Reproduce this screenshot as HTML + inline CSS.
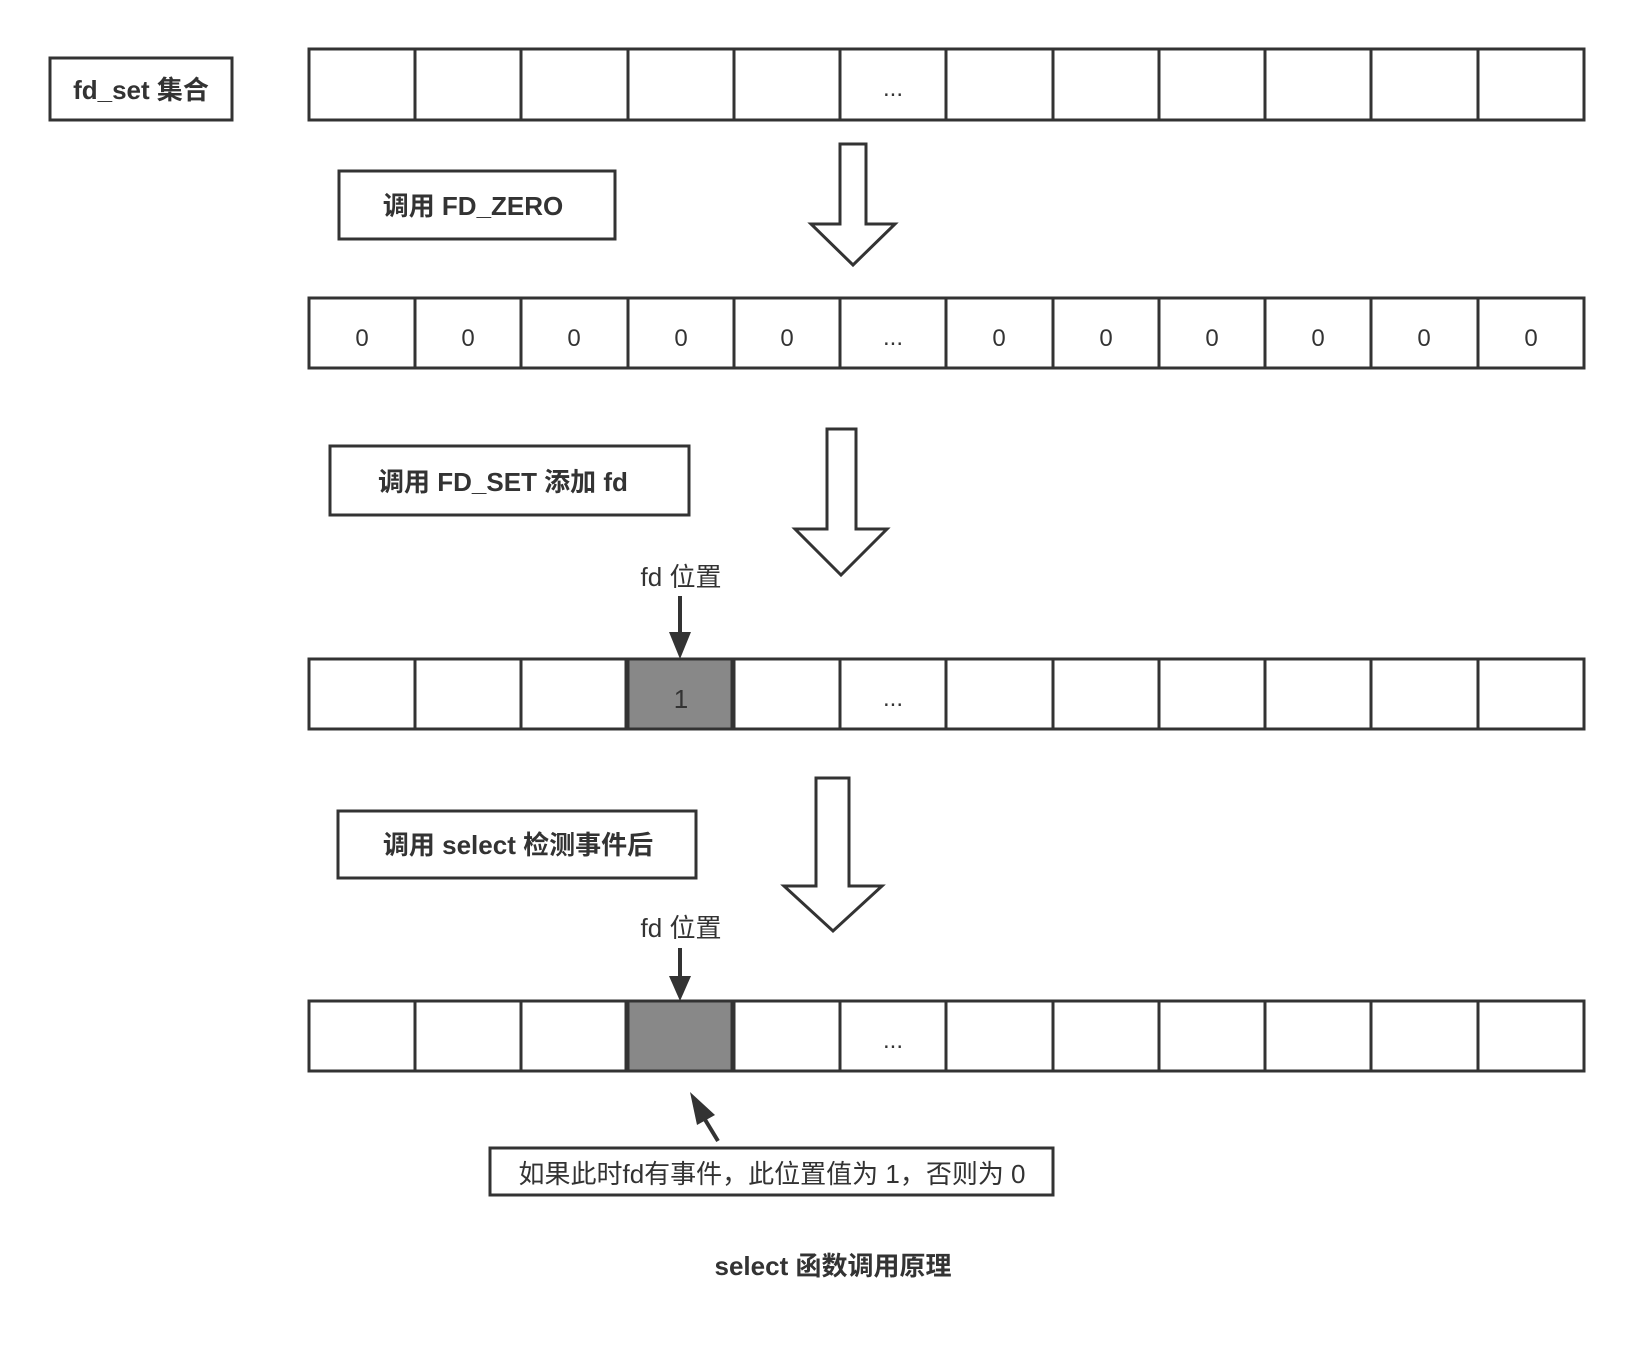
<!DOCTYPE html>
<html><head><meta charset="utf-8"><style>
html,body{margin:0;padding:0;background:#fff}
svg{display:block}
text{font-family:"Liberation Sans","Noto Sans CJK SC",sans-serif;fill:#333}
</style></head><body>
<svg width="1630" height="1346" viewBox="0 0 1630 1346" xmlns="http://www.w3.org/2000/svg">
<g stroke="#333" stroke-width="3" fill="none">
<rect x="50" y="58" width="182" height="62" fill="#fff"/>
<rect x="309" y="49" width="1275" height="71"/>
<rect x="309" y="298" width="1275" height="70"/>
<rect x="309" y="659" width="1275" height="70"/>
<rect x="309" y="1001" width="1275" height="70"/>
<rect x="626" y="659" width="106" height="70" fill="#888"/>
<rect x="626" y="1001" width="106" height="70" fill="#888"/>
<path d="M415 49V120M521 49V120M628 49V120M734 49V120M840 49V120M946 49V120M1053 49V120M1159 49V120M1265 49V120M1371 49V120M1478 49V120"/>
<path d="M415 298V368M521 298V368M628 298V368M734 298V368M840 298V368M946 298V368M1053 298V368M1159 298V368M1265 298V368M1371 298V368M1478 298V368"/>
<path d="M415 659V729M521 659V729M628 659V729M734 659V729M840 659V729M946 659V729M1053 659V729M1159 659V729M1265 659V729M1371 659V729M1478 659V729"/>
<path d="M415 1001V1071M521 1001V1071M628 1001V1071M734 1001V1071M840 1001V1071M946 1001V1071M1053 1001V1071M1159 1001V1071M1265 1001V1071M1371 1001V1071M1478 1001V1071"/>
<rect x="339" y="171" width="276" height="68"/>
<rect x="330" y="446" width="359" height="69"/>
<rect x="338" y="811" width="358" height="67"/>
<rect x="490" y="1148" width="563" height="47"/>
<path d="M840 144H866V224H895L853 265L811 224H840Z" fill="#fff"/>
<path d="M827 429H856V529H887L841 575L795 529H827Z" fill="#fff"/>
<path d="M816 778H849V886H882L833 931L784 886H816Z" fill="#fff"/>
<path d="M680 596V640" stroke-width="4"/>
<path d="M680 948V982" stroke-width="4"/>
<path d="M718 1141L701 1113" stroke-width="4"/>
</g>
<g fill="#333">
<path d="M669 632L691 632L680 659Z"/>
<path d="M669 976L691 976L680 1001Z"/>
<path d="M690 1092L715 1115L697 1125Z"/>
</g>
<g font-size="26" text-anchor="middle" font-weight="bold">
<text x="141" y="99">fd_set 集合</text>
<text x="473" y="215">调用 FD_ZERO</text>
<text x="503" y="491">调用 FD_SET 添加 fd</text>
<text x="518" y="854">调用 select 检测事件后</text>
<text x="833" y="1275">select 函数调用原理</text>
</g>
<g font-size="26" text-anchor="middle">
<text x="681" y="586">fd 位置</text>
<text x="681" y="937">fd 位置</text>
<text x="772" y="1183">如果此时fd有事件，此位置值为 1，否则为 0</text>
<text x="681" y="708">1</text>
</g>
<g font-size="24" text-anchor="middle">
<text x="893" y="96">...</text>
<text x="893" y="345">...</text>
<text x="893" y="706">...</text>
<text x="893" y="1048">...</text>
<text x="362" y="346">0</text><text x="468" y="346">0</text><text x="574" y="346">0</text><text x="681" y="346">0</text><text x="787" y="346">0</text>
<text x="999" y="346">0</text><text x="1106" y="346">0</text><text x="1212" y="346">0</text><text x="1318" y="346">0</text><text x="1424" y="346">0</text><text x="1531" y="346">0</text>
</g>
</svg>
</body></html>
